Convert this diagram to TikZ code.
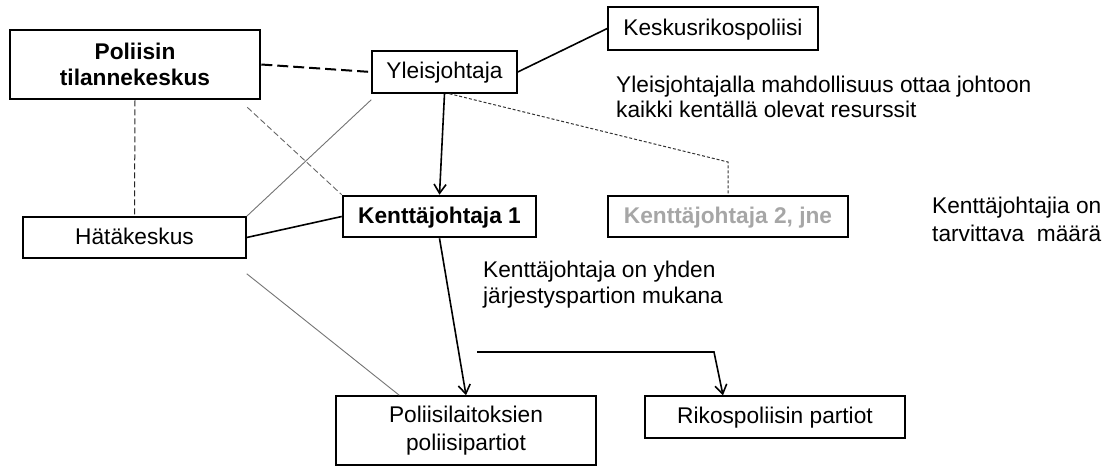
\documentclass[tikz,border=0pt]{standalone}
\usepackage{fontspec}
\setmainfont{Liberation Sans}
\usetikzlibrary{arrows.meta}
\newcommand\fsz{\fontsize{22.7pt}{26pt}\selectfont}
\begin{document}
\begin{tikzpicture}[x=1pt,y=-1pt,
  font=\fsz,
  box/.style={draw=black, line width=1.5pt, rectangle, inner sep=0pt, align=center},
  oneline/.style={text height=16.5pt, text depth=3.5pt},
  heavybox/.style={box, line width=2.6pt, font=\fsz\bfseries},
  note/.style={anchor=base west, inner sep=0pt, align=left},
  conn/.style={line width=1.6pt, draw=black},
  arr/.style={conn, -{Straight Barb[length=9pt,width=12pt]}},
  longdash/.style={line width=2pt, draw=black, dash pattern=on 11pt off 5pt},
  blackdash/.style={line width=1pt, draw=black!85, dash pattern=on 6pt off 3pt},
  greydash/.style={line width=0.9pt, draw=black!60, dash pattern=on 6pt off 3pt},
  dotline/.style={line width=1pt, draw=black!80, dash pattern=on 3pt off 2pt},
  greyline/.style={line width=0.9pt, draw=black!55}
]
\useasboundingbox (0,0) rectangle (1109,466);

% boxes
\node[heavybox, minimum width=250pt, minimum height=69pt] (poli) at (135,64.5) {Poliisin\\tilannekeskus};
\node[box, oneline, minimum width=145pt, minimum height=42pt] (yleis) at (444.5,72) {Yleisjohtaja};
\node[box, oneline, minimum width=210pt, minimum height=43pt] (kesk) at (713,28.5) {Keskusrikospoliisi};
\node[heavybox, oneline, minimum width=193pt, minimum height=41pt] (kj1) at (439.5,216.5) {Kenttäjohtaja 1};
\node[box, oneline, minimum width=240pt, minimum height=41pt, font=\fsz\bfseries, text=black!35] (kj2) at (728,216.5) {Kenttäjohtaja 2, jne};
\node[box, oneline, minimum width=223pt, minimum height=41pt] (hata) at (134.5,237.5) {Hätäkeskus};
\node[box, minimum width=260pt, minimum height=69pt] (plp) at (466,430.5) {Poliisilaitoksien\\[2pt]poliisipartiot};
\node[box, oneline, minimum width=260pt, minimum height=42pt] (rik) at (775,417) {Rikospoliisin partiot};

% notes (anchored at the baseline of their last line)
\node[note, font=\fontsize{22.7pt}{25pt}\selectfont] (n1) at (616,117) {Yleisjohtajalla mahdollisuus ottaa johtoon\\kaikki kentällä olevat resurssit};
\node[note] (n2) at (483,303) {Kenttäjohtaja on yhden\\järjestyspartion mukana};
\node[note, font=\fontsize{22.7pt}{28pt}\selectfont] (n3) at (932,241) {Kenttäjohtajia on\\tarvittava\ \ määrä};

% helper points of the bent connectors
\coordinate (kjbend) at (728,162);
\coordinate (brA) at (477,352);
\coordinate (brB) at (714,352);

% connectors
\draw[longdash] (poli.east) -- (yleis.west);
\draw[blackdash] (poli.south) -- (hata.north);
\draw[greydash] ([xshift=-14pt,yshift=-7pt]poli.south east) -- (kj1.north west);
\draw[greyline] ([yshift=-6pt]yleis.south west) -- (hata.north east);
\draw[greyline] ([yshift=-15pt]hata.south east) -- ([xshift=64pt]plp.north west);
\draw[conn] (yleis.east) -- (kesk.west);
\draw[arr] (yleis.south) -- (kj1.north);
\draw[conn] (hata.east) -- (kj1.west);
\draw[dotline] ([xshift=5pt]yleis.south) -- (kjbend) -- (kj2.north);
\draw[arr] (kj1.south) -- (plp.north);
\draw[arr] (brA) -- (brB) -- ([xshift=-52pt]rik.north);
\end{tikzpicture}
\end{document}
